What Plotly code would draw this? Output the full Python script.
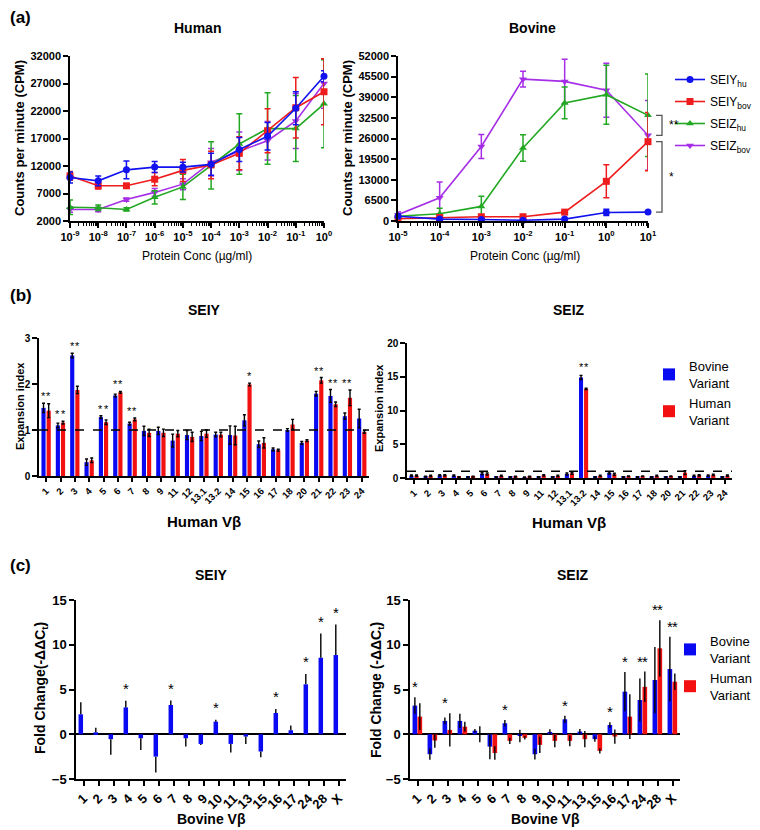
import plotly.graph_objects as go

W, H = 760, 830
FONT = "Liberation Sans"


def X(px):
    return px / W


def Y(py):
    return 1 - py / H


# ---------------- Panel (a): proliferation (CPM) ----------------
conc_human = [1e-9, 1e-8, 1e-7, 1e-6, 1e-5, 1e-4, 1e-3, 1e-2, 1e-1, 1e0]
conc_bovine = [1e-5, 1e-4, 1e-3, 1e-2, 1e-1, 1e0, 1e1]
human_xticktext = ["10<sup>-9</sup>", "10<sup>-8</sup>", "10<sup>-7</sup>", "10<sup>-6</sup>", "10<sup>-5</sup>",
                   "10<sup>-4</sup>", "10<sup>-3</sup>", "10<sup>-2</sup>", "10<sup>-1</sup>", "10<sup>0</sup>"]
bovine_xticktext = ["10<sup>-5</sup>", "10<sup>-4</sup>", "10<sup>-3</sup>", "10<sup>-2</sup>",
                    "10<sup>-1</sup>", "10<sup>0</sup>", "10<sup>1</sup>"]
human_yticks = [2000, 7000, 12000, 17000, 22000, 27000, 32000]
bovine_yticks = [0, 6500, 13000, 19500, 26000, 32500, 39000, 45500, 52000]
series_names = ["SEIY<sub>hu</sub>", "SEIY<sub>bov</sub>", "SEIZ<sub>hu</sub>", "SEIZ<sub>bov</sub>"]

hum_seiy_hu = [9900, 9300, 11300, 11800, 11800, 12300, 15000, 17400, 22500, 28300]
hum_seiy_hu_sd = [1000, 900, 1600, 1000, 900, 2000, 2200, 2500, 3000, 1000]
hum_seiy_bov = [10200, 8400, 8400, 9600, 11200, 12200, 14300, 18400, 22600, 25500]
hum_seiy_bov_sd = [800, 600, 300, 1200, 2000, 2500, 3000, 4000, 5500, 6000]
hum_seiz_hu = [4500, 4400, 4100, 6300, 8200, 12100, 16000, 18800, 18800, 23300]
hum_seiz_hu_sd = [1300, 500, 300, 1200, 2300, 4300, 5500, 6500, 6000, 8000]
hum_seiz_bov = [4100, 4100, 5900, 7200, 8700, 12700, 14700, 16600, 20200, 27000]
hum_seiz_bov_sd = [500, 400, 300, 700, 1000, 2500, 3500, 3500, 5000, 4500]

bov_seiy_hu = [1500, 600, 450, 250, 600, 2700, 2800]
bov_seiy_hu_sd = [600, 300, 200, 200, 200, 1000, 300]
bov_seiy_bov = [700, 1100, 1350, 1350, 2800, 12500, 25000]
bov_seiy_bov_sd = [400, 300, 300, 300, 400, 5200, 9200]
bov_seiz_hu = [1500, 2300, 4600, 23000, 37200, 39800, 33300]
bov_seiz_hu_sd = [600, 1700, 3200, 4200, 5000, 9300, 13000]
bov_seiz_bov = [2000, 7300, 23500, 44700, 44000, 41200, 27000]
bov_seiz_bov_sd = [800, 5000, 3800, 2500, 7000, 8500, 11000]

# ---------------- Panel (b): expansion index, human Vbeta ----------------
vb_human = ["1", "2", "3", "4", "5", "6", "7", "8", "9", "11", "12", "13.1", "13.2",
            "14", "15", "16", "17", "18", "20", "21", "22", "23", "24"]
b_seiy_bov = [1.48, 1.10, 2.62, 0.30, 1.28, 1.75, 1.14, 0.98, 0.98, 0.77, 0.89, 0.87, 0.90,
              0.89, 1.21, 0.69, 0.58, 1.00, 0.72, 1.79, 1.74, 1.30, 1.25]
b_seiy_bov_sd = [0.10, 0.05, 0.05, 0.07, 0.03, 0.03, 0.03, 0.10, 0.08, 0.14, 0.10, 0.10, 0.05,
                 0.20, 0.12, 0.07, 0.03, 0.03, 0.03, 0.05, 0.14, 0.07, 0.20]
b_seiy_hu = [1.42, 1.16, 1.87, 0.34, 1.17, 1.82, 1.23, 0.94, 0.94, 0.92, 0.85, 0.92, 0.90,
             0.88, 1.99, 0.72, 0.56, 1.12, 0.77, 2.08, 1.56, 1.70, 0.96]
b_seiy_hu_sd = [0.15, 0.03, 0.08, 0.05, 0.05, 0.02, 0.03, 0.08, 0.08, 0.07, 0.10, 0.08, 0.05,
                0.20, 0.03, 0.11, 0.02, 0.11, 0.02, 0.06, 0.05, 0.17, 0.03]
b_seiy_sig_bov = ["*", "*", "*", "", "*", "*", "*", "", "", "", "", "", "",
                  "", "", "", "", "", "", "*", "*", "*", ""]
b_seiy_sig_hu = ["*", "*", "*", "", "*", "*", "*", "", "", "", "", "", "",
                 "", "*", "", "", "", "", "*", "*", "*", ""]

b_seiz_bov = [0.35, 0.20, 0.40, 0.35, 0.15, 0.65, 0.15, 0.15, 0.10, 0.15, 0.15, 0.60, 14.9,
              0.15, 0.75, 0.15, 0.15, 0.15, 0.15, 0.15, 0.30, 0.35, 0.15]
b_seiz_bov_sd = [0.10, 0.05, 0.10, 0.10, 0.05, 0.15, 0.05, 0.05, 0.05, 0.05, 0.05, 0.15, 0.30,
                 0.05, 0.15, 0.05, 0.05, 0.05, 0.05, 0.05, 0.10, 0.10, 0.05]
b_seiz_hu = [0.35, 0.30, 0.40, 0.15, 0.20, 0.60, 0.30, 0.20, 0.20, 0.40, 0.30, 0.70, 13.2,
             0.30, 0.55, 0.25, 0.25, 0.30, 0.25, 0.80, 0.40, 0.45, 0.35]
b_seiz_hu_sd = [0.10, 0.10, 0.10, 0.05, 0.05, 0.15, 0.10, 0.05, 0.05, 0.10, 0.10, 0.15, 0.10,
                0.10, 0.15, 0.05, 0.05, 0.10, 0.05, 0.30, 0.10, 0.10, 0.10]
b_seiz_sig_bov = [""] * 12 + ["*"] + [""] * 10
b_seiz_sig_hu = [""] * 12 + ["*"] + [""] * 10

# ---------------- Panel (c): fold change, bovine Vbeta ----------------
vb_bovine = ["1", "2", "3", "4", "5", "6", "7", "8", "9", "10", "11", "13", "15", "16", "17", "24", "28", "X"]
c_seiy_bov = [2.23, 0.22, -0.55, 3.00, -0.45, -2.50, 3.27, -0.45, -1.08, 1.41, -1.08, -0.26,
              -1.93, 2.38, 0.45, 5.58, 8.55, 8.85]
c_seiy_bov_sd = [1.34, 0.52, 1.75, 0.75, 1.30, 1.78, 0.50, 0.93, 0.12, 0.22, 0.96, 0.82,
                 0.63, 0.45, 0.52, 1.15, 2.70, 3.40]
c_seiy_sig = ["", "", "", "*", "", "", "*", "", "", "*", "", "", "", "*", "", "*", "*", "*"]

c_seiz_bov = [3.20, -2.23, 1.49, 1.49, 0.40, -1.38, 1.23, -0.20, -2.23, 0.26, 1.67, 0.30,
              -0.55, 1.04, 4.76, 3.83, 6.06, 7.28]
c_seiz_bov_sd = [0.93, 0.63, 0.37, 0.80, 0.20, 1.40, 0.35, 0.70, 0.60, 0.30, 0.40, 0.30,
                 0.30, 0.30, 2.20, 2.40, 3.70, 3.60]
c_seiz_hu = [1.97, -0.70, 0.48, 0.85, 0.00, -2.10, -0.74, -0.40, -1.19, -0.74, -0.74, -0.55,
             -1.86, -0.26, 1.97, 5.30, 9.60, 5.87]
c_seiz_hu_sd = [1.50, 0.80, 1.86, 0.55, 0.90, 0.75, 0.35, 0.20, 0.90, 0.70, 0.60, 0.90,
                0.30, 0.80, 2.50, 1.70, 3.15, 0.93]
c_seiz_sig_bov = ["*", "", "*", "", "", "", "*", "", "", "", "*", "", "", "*", "*", "*", "*", "*"]
c_seiz_sig_hu = ["", "", "", "", "", "", "", "", "", "", "", "", "", "", "", "*", "*", "*"]

# ---------------- styles ----------------
COL_A = ["#1212ee", "#ee1c1c", "#23a823", "#a52ee6"]
SYM_A = ["circle", "square", "triangle-up", "triangle-down"]
BLUE = "#0a0af2"
RED = "#f21010"

fig = go.Figure()

human_sets = [(hum_seiy_hu, hum_seiy_hu_sd), (hum_seiy_bov, hum_seiy_bov_sd),
              (hum_seiz_hu, hum_seiz_hu_sd), (hum_seiz_bov, hum_seiz_bov_sd)]
bovine_sets = [(bov_seiy_hu, bov_seiy_hu_sd), (bov_seiy_bov, bov_seiy_bov_sd),
               (bov_seiz_hu, bov_seiz_hu_sd), (bov_seiz_bov, bov_seiz_bov_sd)]

for i in [3, 2, 1, 0]:
    for xs, (ys, sd), xa, ya, show in [(conc_human, human_sets[i], "x", "y", True),
                                       (conc_bovine, bovine_sets[i], "x2", "y2", False)]:
        fig.add_trace(go.Scatter(
            x=xs, y=ys, mode="lines+markers", name=series_names[i],
            line=dict(color=COL_A[i], width=1.6),
            marker=dict(symbol=SYM_A[i], size=7, color=COL_A[i]),
            error_y=dict(type="data", array=sd, visible=True, color=COL_A[i], thickness=1.5, width=3),
            xaxis=xa, yaxis=ya, showlegend=show, legend="legend", legendrank=i + 1,
            legendgroup=f"a{i}", cliponaxis=False))


def add_bars(cats, vals, sds, color, name, offset, width, xa, ya, legend, show, mode, group):
    if mode == "away":
        up = [s if v >= 0 else 0 for v, s in zip(vals, sds)]
        dn = [0 if v >= 0 else s for v, s in zip(vals, sds)]
        cap = 0
    else:
        up = list(sds)
        dn = list(sds)
        cap = 1.5 if mode == "cap" else 0
    fig.add_trace(go.Bar(
        x=cats, y=vals, name=name, marker=dict(color=color, line=dict(width=0)),
        offset=offset, width=width,
        error_y=dict(type="data", symmetric=False, array=up, arrayminus=dn, color="black",
                     thickness=1.4, width=cap, visible=True),
        xaxis=xa, yaxis=ya, legend=legend, showlegend=show, legendgroup=group, cliponaxis=False))


BV = "Bovine<br>Variant"
HV = "Human<br>Variant"
add_bars(vb_human, b_seiy_bov, b_seiy_bov_sd, BLUE, BV, -0.33, 0.29, "x3", "y3", "legend2", False, "cap", "bb")
add_bars(vb_human, b_seiy_hu, b_seiy_hu_sd, RED, HV, 0.03, 0.29, "x3", "y3", "legend2", False, "cap", "bh")
add_bars(vb_human, b_seiz_bov, b_seiz_bov_sd, BLUE, BV, -0.33, 0.29, "x4", "y4", "legend2", True, "cap", "bb")
add_bars(vb_human, b_seiz_hu, b_seiz_hu_sd, RED, HV, 0.03, 0.29, "x4", "y4", "legend2", True, "cap", "bh")
add_bars(vb_bovine, c_seiy_bov, c_seiy_bov_sd, BLUE, BV, -0.33, 0.30, "x5", "y5", "legend3", False, "away", "cb")
add_bars(vb_bovine, c_seiz_bov, c_seiz_bov_sd, BLUE, BV, -0.33, 0.31, "x6", "y6", "legend3", True, "both", "cb")
add_bars(vb_bovine, c_seiz_hu, c_seiz_hu_sd, RED, HV, 0.0, 0.31, "x6", "y6", "legend3", True, "both", "ch")


def tf(size, bold=True):
    return dict(family=FONT, size=size, color="black", weight="bold" if bold else "normal")


base = dict(showline=True, linecolor="black", linewidth=1.5, ticks="outside", ticklen=5,
            tickwidth=1.5, tickcolor="black", showgrid=False, zeroline=False)


def minor_vals(lo, hi):
    out = []
    for n in range(lo, hi):
        out += [k * 10.0 ** n for k in range(2, 10)]
    return out


minor_style = dict(ticks="outside", ticklen=3, tickwidth=1, tickcolor="black")
cat_ticks = dict(tickmode="linear", tick0=0, dtick=1)

layout_axes = dict(
    xaxis=dict(base, type="log", range=[-9, 0], domain=[X(62), X(316)], anchor="y",
               tickmode="array", tickvals=conc_human, ticktext=human_xticktext, tickfont=tf(11),
               minor=dict(minor_style, tickvals=minor_vals(-9, 0))),
    yaxis=dict(base, range=[2000, 32000], tickmode="array", tickvals=human_yticks,
               ticktext=[str(v) for v in human_yticks], domain=[Y(213), Y(48)],
               anchor="x", tickfont=tf(11)),
    xaxis2=dict(base, type="log", range=[-5, 1], domain=[X(390), X(640)], anchor="y2",
                tickmode="array", tickvals=conc_bovine, ticktext=bovine_xticktext, tickfont=tf(11),
                minor=dict(minor_style, tickvals=minor_vals(-5, 1))),
    yaxis2=dict(base, range=[0, 52000], tickmode="array", tickvals=bovine_yticks,
                ticktext=[str(v) for v in bovine_yticks], domain=[Y(213), Y(48)],
                anchor="x2", tickfont=tf(11)),
    xaxis3=dict(base, **cat_ticks, type="category", categoryorder="array", categoryarray=vb_human,
                range=[-0.5, len(vb_human) - 0.5], domain=[X(31), X(361)], anchor="y3",
                tickangle=-45, ticklen=4, tickfont=tf(9.5)),
    yaxis3=dict(base, range=[0, 3], tickvals=[0, 1, 2, 3], domain=[Y(468), Y(330)],
                anchor="x3", tickfont=tf(10)),
    xaxis4=dict(base, **cat_ticks, type="category", categoryorder="array", categoryarray=vb_human,
                range=[-0.5, len(vb_human) - 0.5], domain=[X(399), X(724)], anchor="y4",
                tickangle=-45, ticklen=4, tickfont=tf(9.5)),
    yaxis4=dict(base, range=[0, 20], tickvals=[0, 5, 10, 15, 20], domain=[Y(470), Y(335)],
                anchor="x4", tickfont=tf(10)),
    xaxis5=dict(base, **cat_ticks, type="category", categoryorder="array", categoryarray=vb_bovine,
                range=[-0.5, len(vb_bovine) - 0.5], domain=[X(68), X(338)], anchor="y5",
                tickangle=-45, ticklen=5, tickfont=tf(13)),
    yaxis5=dict(base, range=[-5, 15], tickvals=[-5, 0, 5, 10, 15], domain=[Y(771), Y(592)],
                anchor="x5", tickfont=tf(13), zeroline=True, zerolinecolor="black", zerolinewidth=1.5),
    xaxis6=dict(base, **cat_ticks, type="category", categoryorder="array", categoryarray=vb_bovine,
                range=[-0.5, len(vb_bovine) - 0.5], domain=[X(402), X(672)], anchor="y6",
                tickangle=-45, ticklen=5, tickfont=tf(13)),
    yaxis6=dict(base, range=[-5, 15], tickvals=[-5, 0, 5, 10, 15], domain=[Y(771), Y(592)],
                anchor="x6", tickfont=tf(13), zeroline=True, zerolinecolor="black", zerolinewidth=1.5),
)

annotations = []


def txt(text, x, y, size, bold=True, angle=0, xanchor="center", yanchor="middle"):
    annotations.append(dict(text=text, x=X(x), y=Y(y), xref="paper", yref="paper",
                            showarrow=False, textangle=angle, xanchor=xanchor, yanchor=yanchor,
                            font=tf(size, bold)))


# panel letters
txt("(a)", 0, 9, 17, xanchor="left")
txt("(b)", 0, 287, 17, xanchor="left")
txt("(c)", 0, 557, 17, xanchor="left")
# titles
txt("Human", 189, 20, 14)
txt("Bovine", 524, 20, 14)
txt("SEIY", 196, 302, 14)
txt("SEIZ", 561, 302, 14)
txt("SEIY", 203, 567, 14)
txt("SEIZ", 565, 567, 14)
# axis titles
txt("Counts per minute (CPM)", 12, 130, 13, angle=-90)
txt("Counts per minute (CPM)", 340, 130, 13, angle=-90)
txt("Protein Conc (\u00b5g/ml)", 189, 248, 12, bold=False)
txt("Protein Conc (\u00b5g/ml)", 517, 248, 12, bold=False)
txt("Expansion index", 12, 398, 11, angle=-90)
txt("Expansion index", 371, 400, 11, angle=-90)
txt("Human V\u03b2", 196, 513, 15)
txt("Human V\u03b2", 561, 514, 15)
txt("Fold Change(-\u0394\u0394C<sub>t</sub>)", 33, 680, 14, angle=-90)
txt("Fold Change (-\u0394\u0394C<sub>t</sub>)", 369, 682, 14, angle=-90)
txt("Bovine V\u03b2", 203, 811, 14)
txt("Bovine V\u03b2", 537, 811, 14)


def stars(vals_a, sds_a, sig_a, off_a, vals_b, sds_b, sig_b, off_b, xa, ya, size, pad):
    n = len(vals_a)
    for k in range(n):
        tops = [vals_a[k] + sds_a[k]]
        if vals_b is not None:
            tops.append(vals_b[k] + sds_b[k])
        top = max(tops)
        for sig, off in [(sig_a, off_a), (sig_b, off_b)]:
            if sig is not None and sig[k]:
                annotations.append(dict(text=sig[k], x=k + off, y=top, xref=xa, yref=ya,
                                        showarrow=False, yanchor="bottom", yshift=pad,
                                        font=dict(family=FONT, size=size, color="black")))


stars(b_seiy_bov, b_seiy_bov_sd, b_seiy_sig_bov, -0.185, b_seiy_hu, b_seiy_hu_sd, b_seiy_sig_hu, 0.175,
      "x3", "y3", 11, -1)
stars(b_seiz_bov, b_seiz_bov_sd, b_seiz_sig_bov, -0.185, b_seiz_hu, b_seiz_hu_sd, b_seiz_sig_hu, 0.175,
      "x4", "y4", 11, 0)
stars(c_seiy_bov, c_seiy_bov_sd, c_seiy_sig, -0.18, None, None, None, 0, "x5", "y5", 15, 2)
stars(c_seiz_bov, c_seiz_bov_sd, c_seiz_sig_bov, -0.175, c_seiz_hu, c_seiz_hu_sd, c_seiz_sig_hu, 0.155,
      "x6", "y6", 15, 0)

# significance brackets on bovine panel (a)
shapes = []
bx0, bx1 = X(648), X(654)
for top, bot, label in [(bov_seiz_hu[-1], bov_seiz_bov[-1], "**"),
                        (bov_seiy_bov[-1], bov_seiy_hu[-1], "*")]:
    shapes.append(dict(type="path", xref="paper", yref="y2",
                       path=f"M {bx0},{top} L {bx1},{top} L {bx1},{bot} L {bx0},{bot}",
                       line=dict(color="#555555", width=1.3)))
    annotations.append(dict(text=label, x=X(659), y=(top + bot) / 2, xref="paper", yref="y2",
                            showarrow=False, xanchor="left", yanchor="middle",
                            font=dict(family=FONT, size=12, color="black")))

for xa, ya in [("x3", "y3"), ("x4", "y4")]:
    shapes.append(dict(type="line", xref=f"{xa} domain", yref=ya, x0=0, x1=1, y0=1, y1=1,
                       layer="above", line=dict(color="black", width=1.3, dash="dash")))

leg_common = dict(xanchor="left", yanchor="top", bgcolor="rgba(0,0,0,0)", borderwidth=0,
                  font=dict(family=FONT, size=13, color="black"), itemwidth=30)

fig.update_layout(
    width=W, height=H,
    margin=dict(l=0, r=0, t=0, b=0, autoexpand=False),
    paper_bgcolor="white", plot_bgcolor="white",
    font=dict(family=FONT, color="black"),
    bargap=0.3,
    annotations=annotations,
    shapes=shapes,
    legend=dict(leg_common, x=X(662), y=Y(57), tracegroupgap=3,
                font=dict(family=FONT, size=12, color="black")),
    legend2=dict(leg_common, x=X(641), y=Y(343), tracegroupgap=0),
    legend3=dict(leg_common, x=X(662), y=Y(618), tracegroupgap=0),
    **layout_axes,
)

fig.write_html("out.html")
